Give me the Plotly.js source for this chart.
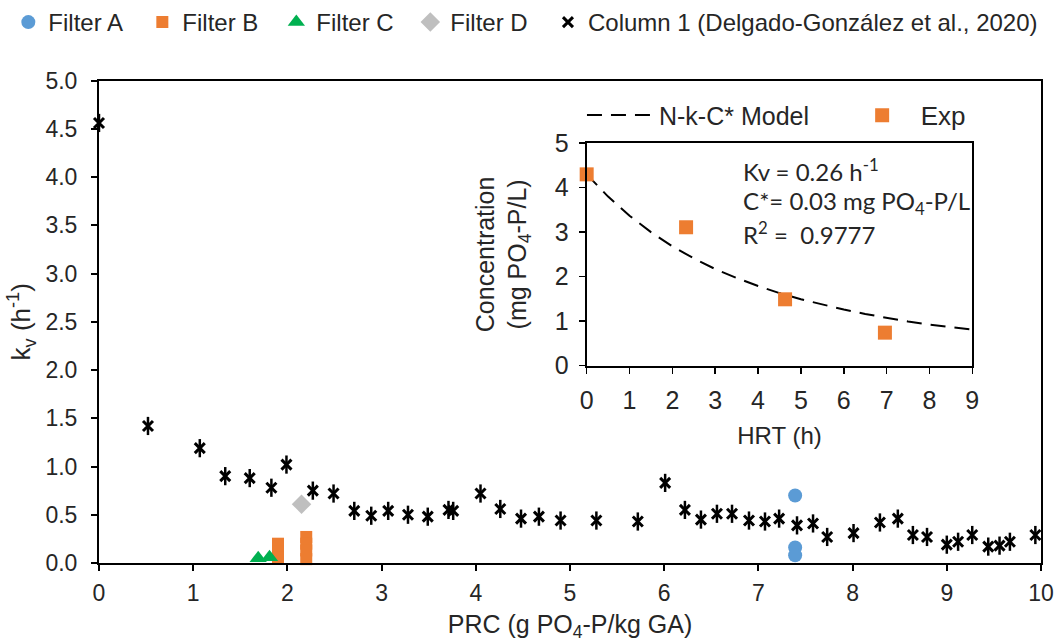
<!DOCTYPE html>
<html>
<head>
<meta charset="utf-8">
<script src="https://cdn.plot.ly/plotly-3.0.1.min.js"></script>
<style>html,body{margin:0;padding:0;background:#fff;}#chart{width:1055px;height:642px;}</style>
</head>
<body>
<div id="chart"></div>
<script>
// ---- Main chart data ----
const filterA_x = [7.39, 7.39, 7.39];
const filterA_y = [0.70, 0.16, 0.08];
const filterB_x = [1.90, 1.90, 1.90, 2.20, 2.20, 2.20, 2.20];
const filterB_y = [0.20, 0.12, 0.06, 0.27, 0.20, 0.13, 0.04];
const filterC_x = [1.69, 1.81];
const filterC_y = [0.05, 0.06];
const filterD_x = [2.15];
const filterD_y = [0.61];
const column1_x = [0.00, 0.52, 1.07, 1.34, 1.60, 1.83, 1.99, 2.27, 2.49, 2.71, 2.89, 3.07, 3.28, 3.49, 3.71, 3.76,
  4.05, 4.26, 4.48, 4.67, 4.90, 5.28, 5.72, 6.01, 6.22, 6.39, 6.56, 6.72, 6.90, 7.07, 7.22, 7.41, 7.58, 7.73,
  8.01, 8.29, 8.48, 8.64, 8.79, 9.00, 9.12, 9.27, 9.44, 9.56, 9.67, 9.94];
const column1_y = [4.56, 1.42, 1.19, 0.90, 0.88, 0.78, 1.02, 0.75, 0.72, 0.54, 0.49, 0.54, 0.50, 0.48, 0.55, 0.54,
  0.72, 0.56, 0.46, 0.48, 0.44, 0.44, 0.43, 0.83, 0.55, 0.45, 0.51, 0.51, 0.44, 0.43, 0.46, 0.39, 0.41, 0.27,
  0.31, 0.42, 0.46, 0.29, 0.27, 0.19, 0.22, 0.29, 0.17, 0.18, 0.22, 0.29];

// ---- Inset data ----
const exp_hrt = [0, 2.32, 4.63, 6.96];
const exp_conc = [4.30, 3.11, 1.49, 0.74];
const model_hrt = [0, 0.5, 1, 1.5, 2, 2.5, 3, 3.5, 4, 4.5, 5, 5.5, 6, 6.5, 7, 7.5, 8, 8.5, 9];
const model_conc = [4.30, 3.80, 3.37, 3.00, 2.68, 2.41, 2.17, 1.97, 1.79, 1.63, 1.49, 1.37, 1.26, 1.16, 1.07, 0.99, 0.92, 0.86, 0.81];

const mainTicks = [0, 1, 2, 3, 4, 5, 6, 7, 8, 9, 10];
const insetXTicks = [0, 1, 2, 3, 4, 5, 6, 7, 8, 9];
const insetYTicks = [0, 1, 2, 3, 4, 5];

const FONT = 'Liberation Sans, Arial, sans-serif';
const TXT = '#262626';

const traces = [
  {x: filterA_x, y: filterA_y, name: 'Filter A', type: 'scatter', mode: 'markers', cliponaxis: false,
   marker: {symbol: 'circle', size: 14, color: '#5B9BD5'}, legend: 'legend'},
  {x: filterB_x, y: filterB_y, name: 'Filter B', type: 'scatter', mode: 'markers', cliponaxis: false,
   marker: {symbol: 'square', size: 12, color: '#ED7D31'}, legend: 'legend'},
  {x: filterC_x, y: filterC_y, name: 'Filter C', type: 'scatter', mode: 'markers', cliponaxis: false,
   marker: {symbol: 'triangle-up', size: 15, color: '#00B050'}, legend: 'legend'},
  {x: filterD_x, y: filterD_y, name: 'Filter D', type: 'scatter', mode: 'markers', cliponaxis: false,
   marker: {symbol: 'diamond', size: 15, color: '#BFBFBF'}, legend: 'legend'},
  {x: column1_x, y: column1_y, name: 'Column 1 (Delgado-González et al., 2020)', type: 'scatter', mode: 'markers', cliponaxis: false,
   legendgroup: 'c1', marker: {symbol: 'x-thin-open', size: 10, color: '#000', line: {width: 3, color: '#000'}}, legend: 'legend3'},
  {x: column1_x, y: column1_y, name: 'Column 1 (Delgado-González et al., 2020)', type: 'scatter', mode: 'markers', cliponaxis: false,
   legendgroup: 'c1', showlegend: false, marker: {symbol: 'line-ns-open', size: 13, color: '#000', line: {width: 2.5, color: '#000'}}, legend: 'legend3'},
  {x: model_hrt, y: model_conc, name: 'N-k-C* Model', type: 'scatter', mode: 'lines', xaxis: 'x2', yaxis: 'y2',
   line: {color: '#000', width: 2, dash: '15px,9px'}, legend: 'legend2'},
  {x: exp_hrt, y: exp_conc, name: 'Exp', type: 'scatter', mode: 'markers', xaxis: 'x2', yaxis: 'y2', cliponaxis: false,
   marker: {symbol: 'square', size: 14, color: '#ED7D31'}, legend: 'legend4'}
];

const layout = {
  width: 1055, height: 642,
  margin: {l: 99, r: 14, t: 76, b: 79},
  paper_bgcolor: '#fff', plot_bgcolor: 'rgba(0,0,0,0)',
  font: {family: FONT, color: TXT, size: 20},
  showlegend: true,
  legend: {
    orientation: 'h', xref: 'container', yref: 'container', x: 0.0079, y: 1.0, xanchor: 'left', yanchor: 'top',
    font: {family: FONT, size: 24, color: TXT}, entrywidth: 89, itemwidth: 30, bgcolor: 'rgba(0,0,0,0)'
  },
  legend3: {
    orientation: 'h', xref: 'container', yref: 'container', x: 0.5194, y: 1.0, xanchor: 'left', yanchor: 'top',
    font: {family: FONT, size: 24, color: TXT}, itemwidth: 30, bgcolor: 'rgba(0,0,0,0)'
  },
  legend2: {
    orientation: 'h', xref: 'paper', yref: 'paper', x: 0.5127, y: 0.928, xanchor: 'left', yanchor: 'middle',
    font: {family: FONT, size: 25, color: TXT}, itemwidth: 67, bgcolor: 'rgba(0,0,0,0)'
  },
  legend4: {
    orientation: 'h', xref: 'paper', yref: 'paper', x: 0.7905, y: 0.928, xanchor: 'left', yanchor: 'middle',
    font: {family: FONT, size: 26, color: TXT}, itemwidth: 67, bgcolor: 'rgba(0,0,0,0)'
  },
  xaxis: {
    range: [0, 10], tickvals: mainTicks, ticktext: mainTicks.map(String), ticks: 'outside', ticklen: 6, tickwidth: 2, tickcolor: '#000',
    showline: true, linecolor: '#000', linewidth: 2, mirror: true, showgrid: false, zeroline: false, ticklabelstandoff: 2,
    tickfont: {family: FONT, size: 23, color: TXT},
    title: {text: 'PRC (g PO<sub>4</sub>-P/kg GA)', font: {family: FONT, size: 25, color: TXT}, standoff: 16}
  },
  yaxis: {
    range: [0, 5], dtick: 0.5, tickformat: '.1f', ticks: 'outside', ticklen: 6, tickwidth: 2, tickcolor: '#000',
    showline: true, linecolor: '#000', linewidth: 2, mirror: true, showgrid: false, zeroline: false, ticklabelstandoff: 9,
    tickfont: {family: FONT, size: 23, color: TXT},
    title: {text: 'k<sub>v</sub> (h<sup>-1</sup>)', font: {family: FONT, size: 26, color: TXT}, standoff: 7}
  },
  xaxis2: {
    domain: [0.5177, 0.9271], anchor: 'y2', range: [0, 9], tickvals: insetXTicks, ticktext: insetXTicks.map(String),
    ticks: 'outside', ticklen: 6, tickwidth: 1.5, tickcolor: '#000', ticklabelstandoff: 5,
    showline: true, linecolor: '#000', linewidth: 2, mirror: true, showgrid: false, zeroline: false,
    tickfont: {family: FONT, size: 25, color: TXT},
    title: {text: 'HRT (h)', font: {family: FONT, size: 24, color: TXT}, standoff: 15}
  },
  yaxis2: {
    domain: [0.4092, 0.870], anchor: 'x2', range: [0, 5], tickvals: insetYTicks, ticktext: insetYTicks.map(String),
    ticks: 'outside', ticklen: 6, tickwidth: 1.5, tickcolor: '#000', ticklabelstandoff: 5,
    showline: true, linecolor: '#000', linewidth: 2, mirror: true, showgrid: false, zeroline: false,
    tickfont: {family: FONT, size: 25, color: TXT},
    title: {text: 'Concentration<br>(mg PO<sub>4</sub>-P/L)', font: {family: FONT, size: 25, color: TXT}, standoff: 21}
  },
  annotations: [
    {xref: 'x2', yref: 'y2', x: 3.6, y: 4.40, xanchor: 'left', yanchor: 'middle', showarrow: false,
     text: 'Kv = 0.26 h<sup>-1</sup>', font: {family: 'Lato, sans-serif', size: 24, color: TXT}},
    {xref: 'x2', yref: 'y2', x: 3.6, y: 3.67, xanchor: 'left', yanchor: 'middle', showarrow: false,
     text: 'C*= 0.03 mg PO<sub>4</sub>-P/L', font: {family: 'Lato, sans-serif', size: 24, color: TXT}},
    {xref: 'x2', yref: 'y2', x: 3.6, y: 2.98, xanchor: 'left', yanchor: 'middle', showarrow: false,
     text: 'R<sup>2</sup> =  0.9777', font: {family: 'Lato, sans-serif', size: 24, color: TXT}}
  ]
};

Plotly.newPlot('chart', traces, layout, {displayModeBar: false, staticPlot: true});
</script>
</body>
</html>
